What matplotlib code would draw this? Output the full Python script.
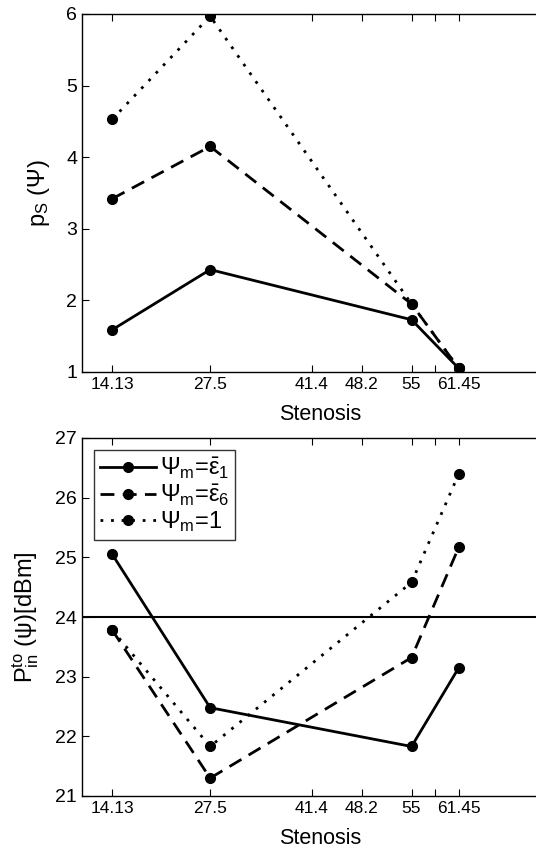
import matplotlib
matplotlib.use('Agg')
import matplotlib.pyplot as plt

plt.rcParams['font.family'] = ['Liberation Sans', 'DejaVu Sans']
plt.rcParams['mathtext.fontset'] = 'custom'
plt.rcParams['mathtext.rm'] = 'Liberation Sans'
plt.rcParams['mathtext.it'] = 'Liberation Sans'

stenosis = [14.13, 27.5, 55, 61.45]
xtick_vals = [14.13, 27.5, 41.4, 48.2, 55, 58.2, 61.45]
xtick_labels = ['14.13', '27.5', '41.4', '48.2', '55', '', '61.45']

# top panel: p_S(psi)
ps_eps1 = [1.59, 2.43, 1.73, 1.05]
ps_eps6 = [3.42, 4.15, 1.95, 1.05]
ps_one = [4.53, 5.97, 1.95, 1.05]

# bottom panel: P_in^to [dBm]
pin_eps1 = [25.05, 22.48, 21.83, 23.15]
pin_eps6 = [23.78, 21.30, 23.32, 25.17]
pin_one = [23.78, 21.83, 24.58, 26.40]
threshold = 24

labels = [r'$\Psi_{\rm m}$=$\bar{\varepsilon}_1$',
          r'$\Psi_{\rm m}$=$\bar{\varepsilon}_6$',
          r'$\Psi_{\rm m}$=1']
styles = ['-', (0, (5, 3)), (0, (1, 2.8))]

W, H = 536, 849
fig = plt.figure(figsize=(W / 100, H / 100), dpi=100)


def setup(ax):
    ax.set_xlim(10, 75)
    ax.set_xticks(xtick_vals)
    ax.set_xticklabels(xtick_labels)
    ax.tick_params(direction='in', top=True, right=True, length=5)
    ax.tick_params(axis='x', labelsize=12.5)
    ax.tick_params(axis='y', labelsize=14)
    ax.set_xlabel('Stenosis', fontsize=15.5, labelpad=9)
    for s in ax.spines.values():
        s.set_linewidth(1.0)


ax1 = fig.add_axes([82 / W, 1 - 372 / H, (558 - 82) / W, (372 - 14) / H])
for y, ls in zip([ps_eps1, ps_eps6, ps_one], styles):
    ax1.plot(stenosis, y, linestyle=ls, color='black', lw=2, marker='o', ms=7)
ax1.set_ylim(1, 6)
ax1.set_yticks([1, 2, 3, 4, 5, 6])
setup(ax1)
ax1.set_ylabel(r'p$_{\rm S}$ ($\Psi$)', fontsize=17, labelpad=10)

ax2 = fig.add_axes([82 / W, 1 - 796 / H, (558 - 82) / W, (796 - 438) / H])
for y, ls, lab in zip([pin_eps1, pin_eps6, pin_one], styles, labels):
    ax2.plot(stenosis, y, linestyle=ls, color='black', lw=2, marker='o', ms=7, label=lab)
ax2.axhline(threshold, color='black', lw=1.5)
ax2.set_ylim(21, 27)
ax2.set_yticks([21, 22, 23, 24, 25, 26, 27])
setup(ax2)
ax2.set_ylabel(r'P$_{\rm in}^{\rm to}$ ($\psi$)[dBm]', fontsize=17, labelpad=10)
leg = ax2.legend(loc='upper left', fontsize=17, frameon=True, fancybox=False,
                 edgecolor='black', handlelength=2.4, handletextpad=0.15,
                 borderpad=0.25, labelspacing=0.05, borderaxespad=0.5)
leg.get_frame().set_linewidth(1.0)

fig.savefig('out.png', dpi=100)
